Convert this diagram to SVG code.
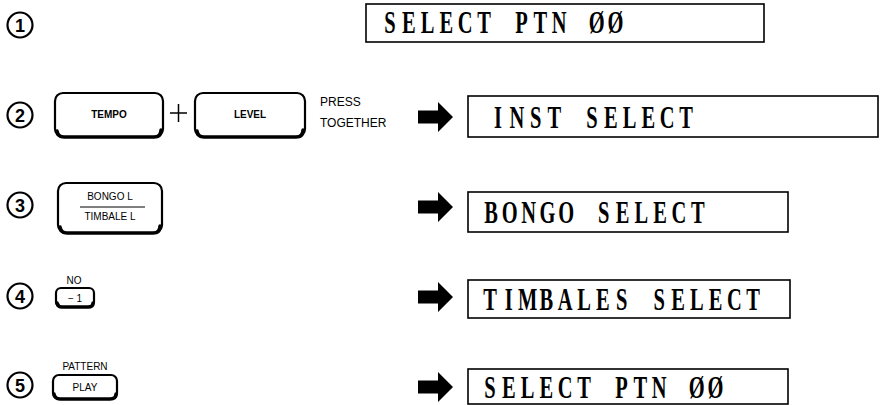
<svg xmlns="http://www.w3.org/2000/svg" width="886" height="405" viewBox="0 0 886 405">
<defs>
<style>
.num circle{fill:none;stroke:#000;stroke-width:2.2}
.num text{font-family:"Liberation Sans",Arial,sans-serif;font-weight:bold;font-size:18px;text-anchor:middle;fill:#000}
.key{fill:#fff;stroke:#000;stroke-width:2.2}
.keyb{fill:none;stroke:#000;stroke-width:3.5;stroke-linecap:round}
.kt{font-family:"Liberation Sans",Arial,sans-serif;font-size:10px;text-anchor:middle;fill:#000}
.lbl{font-family:"Liberation Sans",Arial,sans-serif;font-size:12px;fill:#000}
.lcd{fill:#fff;stroke:#000;stroke-width:1.6}
.lt{font-family:"Liberation Serif","Times New Roman",serif;font-weight:bold;font-size:31px;fill:#000;text-anchor:middle}
.arr{fill:#000}
</style>
<path id="arrow" d="M0,-6.5 L20,-6.5 L20,-15 L35,0 L20,15 L20,6.5 L0,6.5 Z"/>
</defs>

<g id="step1">
  <g class="num"><circle cx="20" cy="25" r="12.5"/><text x="20" y="31.5">1</text></g>
  <g id="lcd1"><rect class="lcd" x="366" y="4" width="398" height="38"/>
  <text class="lt" transform="translate(390,33) scale(0.66,1)" x="0 28.48 56.96 85.44 113.92 142.4 170.88 199.36 227.84 256.32 284.8 313.28 341.76">SELECT PTN ØØ</text></g>
</g>

<g id="step2">
  <g class="num"><circle cx="20" cy="115" r="12.5"/><text x="20" y="121.5">2</text></g>
  <g id="key-tempo"><rect class="key" x="55" y="93" width="108" height="44" rx="8"/>
  <path class="keyb" d="M57,131 Q58,137 64,137 L154,137 Q161,137 161,130"/>
  <text class="kt" x="109" y="118" font-weight="bold">TEMPO</text></g>
  <path d="M170,113 H187 M178.5,104 V122" stroke="#000" stroke-width="1.5" fill="none"/>
  <g id="key-level"><rect class="key" x="195" y="93" width="110" height="44" rx="8"/>
  <path class="keyb" d="M197,131 Q198,137 204,137 L296,137 Q303,137 303,130"/>
  <text class="kt" x="250" y="118" font-weight="bold">LEVEL</text></g>
  <text class="lbl" x="320" y="106">PRESS</text>
  <text class="lbl" x="320" y="127">TOGETHER</text>
  <g id="lcd2"><rect class="lcd" x="468" y="96" width="410" height="41"/>
  <text class="lt" transform="translate(498,128) scale(0.66,1)" x="0 28.48 56.96 85.44 113.92 142.4 170.88 199.36 227.84 256.32 284.8">INST SELECT</text></g>
</g>

<g id="step3">
  <g class="num"><circle cx="20" cy="205" r="12.5"/><text x="20" y="211.5">3</text></g>
  <g id="key-bongo"><rect class="key" x="58" y="183" width="104" height="50" rx="8"/>
  <path class="keyb" d="M60,227 Q61,233 67,233 L153,233 Q160,233 160,226"/>
  <text class="kt" x="110" y="200" font-size="11">BONGO L</text>
  <line x1="80" y1="207" x2="145" y2="207" stroke="#000" stroke-width="1"/>
  <text class="kt" x="110" y="220" font-size="11">TIMBALE L</text></g>
  <g id="lcd3"><rect class="lcd" x="468" y="192" width="320" height="40"/>
  <text class="lt" transform="translate(491,223) scale(0.66,1)" x="0 28.48 56.96 85.44 113.92 142.4 170.88 199.36 227.84 256.32 284.8 313.28">BONGO SELECT</text></g>
</g>

<g id="step4">
  <g class="num"><circle cx="20" cy="296" r="12.5"/><text x="20" y="302.5">4</text></g>
  <text class="kt" x="74" y="284" font-size="9">NO</text>
  <g id="key-minus1"><rect class="key" x="56" y="288" width="38" height="19" rx="5"/>
  <path class="keyb" d="M57,303 Q58,307 62,307 L88,307 Q93,307 93,303"/>
  <text class="kt" x="75" y="301.5" font-size="10">− 1</text></g>
  <g id="lcd4"><rect class="lcd" x="468" y="280" width="322" height="38"/>
  <text class="lt" transform="translate(490,310) scale(0.66,1)" x="0 28.48 56.96 85.44 113.92 142.4 170.88 199.36 227.84 256.32 284.8 313.28 341.76 370.24 398.72">TIMBALES SELECT</text></g>
</g>

<g id="step5">
  <g class="num"><circle cx="20" cy="385" r="12.5"/><text x="20" y="391.5">5</text></g>
  <text class="kt" x="85" y="370" font-size="9.5">PATTERN</text>
  <g id="key-play"><rect class="key" x="53" y="375" width="64" height="24" rx="6"/>
  <path class="keyb" d="M54,394 Q55,399 60,399 L110,399 Q116,399 116,394"/>
  <text class="kt" x="85" y="391">PLAY</text></g>
  <g id="lcd5"><rect class="lcd" x="468" y="369" width="320" height="35"/>
  <text class="lt" transform="translate(490,398) scale(0.66,1)" x="0 28.48 56.96 85.44 113.92 142.4 170.88 199.36 227.84 256.32 284.8 313.28 341.76">SELECT PTN ØØ</text></g>
</g>

<g id="connectors">
  <use href="#arrow" class="arr" x="418" y="117"/>
  <use href="#arrow" class="arr" x="418" y="207"/>
  <use href="#arrow" class="arr" x="418" y="297"/>
  <use href="#arrow" class="arr" x="418" y="387"/>
</g>
</svg>
